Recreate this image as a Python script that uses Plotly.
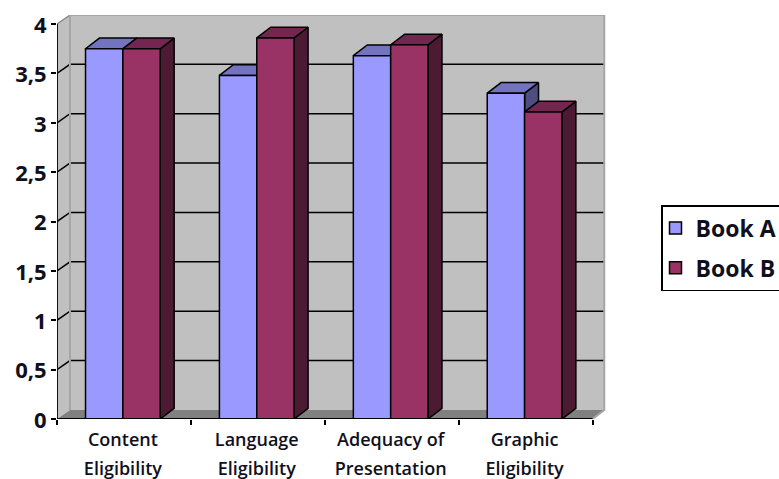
import plotly.graph_objects as go

# Chart values
label_line1 = ["Content", "Language", "Adequacy of", "Graphic"]
label_line2 = ["Eligibility", "Eligibility", "Presentation", "Eligibility"]
book_a = [3.75, 3.48, 3.68, 3.30]
book_b = [3.75, 3.86, 3.79, 3.11]
y_ticks = [0, 0.5, 1, 1.5, 2, 2.5, 3, 3.5, 4]
y_tick_text = ["0", "0,5", "1", "1,5", "2", "2,5", "3", "3,5", "4"]

# Colours
A_FRONT, A_TOP, A_SIDE = "#9999FF", "#7373BF", "#4D4D80"
B_FRONT, B_TOP, B_SIDE = "#993366", "#732650", "#4D1A33"
WALL, FLOOR, EDGE = "#C0C0C0", "#808080", "#A6A6A6"
TEXT = "#10101C"

# Extruded depth expressed in axis units
BAR_DX, BAR_DY = 0.104, 0.108
WALL_DX_L, WALL_DX_R, WALL_DY = 0.097, 0.087, 0.092
BAR_W = 0.279
GROUP_SHIFT = -0.008
X_MAX, Y_MAX = 4.1, 4.092

fig = go.Figure()


def poly(xs, ys, fill, line="rgba(0,0,0,0)", width=0):
    fig.add_trace(go.Scatter(x=xs, y=ys, mode="lines", fill="toself", fillcolor=fill,
                             line=dict(color=line, width=width), hoverinfo="skip",
                             showlegend=False))


def stroke(xs, ys, color="#000000", width=1.6):
    fig.add_trace(go.Scatter(x=xs, y=ys, mode="lines", line=dict(color=color, width=width),
                             hoverinfo="skip", showlegend=False))


# Back wall, left wall and floor
back_l, back_r = WALL_DX_L, 4 + WALL_DX_R
poly([back_l, back_r, back_r, back_l, back_l],
     [WALL_DY, WALL_DY, 4 + WALL_DY, 4 + WALL_DY, WALL_DY], WALL)
poly([0, back_l, back_l, 0, 0], [0, WALL_DY, 4 + WALL_DY, 4, 0], WALL)
poly([0, 4, back_r, back_l, 0], [0, 0, WALL_DY, WALL_DY, 0], FLOOR)

# Gridlines wrap from the axis across the left wall onto the back wall
for t in y_ticks[1:-1]:
    stroke([0, back_l, back_r], [t, t + WALL_DY, t + WALL_DY], width=1.5)
stroke([0, back_l], [4, 4 + WALL_DY], color="#808080", width=1.2)

# Wall outline
stroke([back_l, back_l, back_r, back_r, 4], [WALL_DY, 4 + WALL_DY, 4 + WALL_DY, WALL_DY, 0],
       color=EDGE, width=2)

# Tops and sides of the bars, each series behind the front faces
centers = [i + 0.5 + GROUP_SHIFT for i in range(4)]
for vals, off, top, side in [(book_a, -BAR_W, A_TOP, A_SIDE), (book_b, 0, B_TOP, B_SIDE)]:
    for c, v in zip(centers, vals):
        l, r = c + off, c + off + BAR_W
        poly([r, r + BAR_DX, r + BAR_DX, r, r], [0, BAR_DY, v + BAR_DY, v, 0], side, "#000000", 1.5)
        poly([l, r, r + BAR_DX, l + BAR_DX, l], [v, v, v + BAR_DY, v + BAR_DY, v], top, "#000000", 1.5)

# Front faces sit on an overlaid pair of axes so they cover the extrusions
for name, vals, off, color, group in [("Book A", book_a, -BAR_W / 2, A_FRONT, "a"),
                                      ("Book B", book_b, BAR_W / 2, B_FRONT, "b")]:
    fig.add_trace(go.Bar(name=name, x=[c + off for c in centers], y=vals, width=BAR_W,
                         marker=dict(color=color, line=dict(color="#000000", width=1.5)),
                         xaxis="x2", yaxis="y2", legendgroup=group))

# Axis lines on top of everything
fig.add_trace(go.Scatter(x=[0, 0, 4], y=[4, 0, 0], mode="lines",
                         line=dict(color="#000000", width=1.8), hoverinfo="skip",
                         showlegend=False, xaxis="x2", yaxis="y2"))

label_font = dict(family="Open Sans", size=18, color=TEXT, weight=600)

fig.update_layout(
    width=779, height=479,
    margin=dict(l=57, r=173, t=15, b=60, autoexpand=False),
    paper_bgcolor="#FFFFFF", plot_bgcolor="#FFFFFF",
    barmode="overlay",
    showlegend=True,
    legend=dict(x=661 / 779, y=1 - 205 / 479, xanchor="left", yanchor="top",
                xref="container", yref="container",
                bgcolor="#FFFFFF", bordercolor="#000000", borderwidth=1.5,
                font=dict(family="Open Sans", size=23, color=TEXT, weight=700),
                traceorder="grouped", tracegroupgap=7, indentation=-7),
    xaxis=dict(range=[0, X_MAX], tickmode="array", tickvals=centers, ticktext=label_line1,
               ticks="", showgrid=False, zeroline=False, showline=False,
               tickfont=label_font, ticklabelstandoff=8, tickangle=0,
               minor=dict(tickmode="array", tickvals=[0, 1, 2, 3, 4], ticks="outside",
                          ticklen=5, tickwidth=1.5, tickcolor="#000000", showgrid=False)),
    yaxis=dict(range=[0, Y_MAX], tickmode="array", tickvals=y_ticks, ticktext=y_tick_text,
               ticks="outside", ticklen=5, tickwidth=1.5, tickcolor="#000000",
               showgrid=False, zeroline=False, showline=False, ticklabelshift=1,
               tickfont=dict(family="Open Sans", size=22, color=TEXT, weight=700)),
    xaxis2=dict(range=[0, X_MAX], overlaying="x", anchor="y2", side="bottom",
                tickmode="array", tickvals=centers, ticktext=label_line2, ticks="",
                showgrid=False, zeroline=False, showline=False,
                tickfont=label_font, ticklabelstandoff=37, tickangle=0),
    yaxis2=dict(range=[0, Y_MAX], overlaying="y", anchor="x2", visible=False),
)

fig.write_html("out.html")
